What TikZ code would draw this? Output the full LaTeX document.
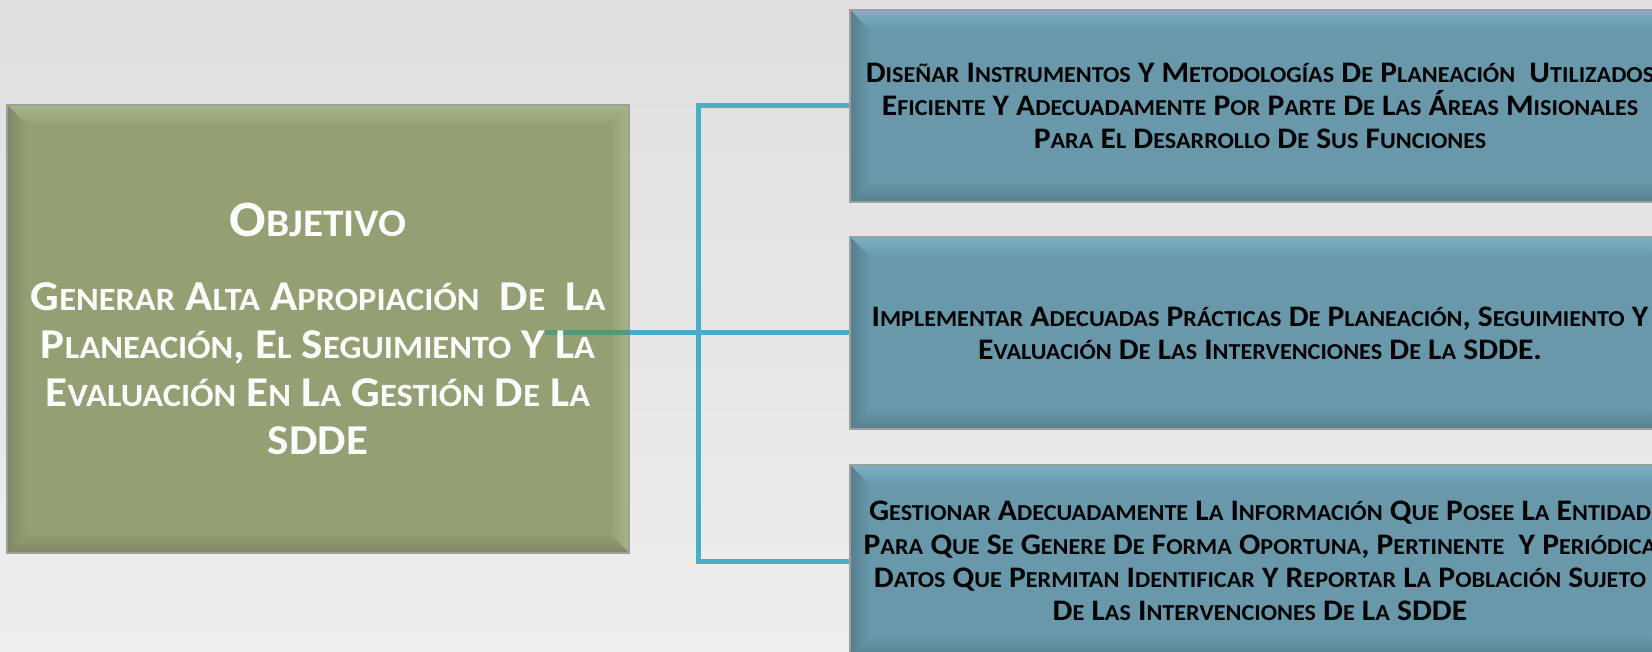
\documentclass[tikz,border=0pt]{standalone}
\usepackage{fontspec}
\setmainfont{Carlito}[FakeStretch=1.06]
\definecolor{bgtop}{RGB}{223,223,223}
\definecolor{bgbot}{RGB}{238,238,238}
\definecolor{gbase}{RGB}{148,160,116}
\definecolor{glight}{RGB}{166,182,132}
\definecolor{gdark}{RGB}{126,136,100}
\definecolor{bbase}{RGB}{104,152,170}
\definecolor{blight}{RGB}{124,176,198}
\definecolor{bdark}{RGB}{86,126,142}
\definecolor{conncol}{RGB}{75,172,198}
\definecolor{connover}{RGB}{96,148,118}
\newcommand\skz{32.5}
\newcommand\sk[1]{{\fontsize{\skz}{10}\selectfont #1}}
\newcommand\bv{20pt}
\tikzset{
  bevelbox/.style n args={3}{rectangle, draw=black!38, line width=1.4pt, fill=#1,
    inner sep=0pt,
    path picture={
      \path (path picture bounding box.north west) coordinate (pNW)
            (path picture bounding box.north east) coordinate (pNE)
            (path picture bounding box.south west) coordinate (pSW)
            (path picture bounding box.south east) coordinate (pSE);
      \shade[top color=#2, bottom color=#1] (pNW) -- (pNE) -- ([xshift=-\bv,yshift=-\bv]pNE) -- ([xshift=\bv,yshift=-\bv]pNW) -- cycle;
      \shade[left color=#1, right color=#2] (pNE) -- (pSE) -- ([xshift=-\bv,yshift=\bv]pSE) -- ([xshift=-\bv,yshift=-\bv]pNE) -- cycle;
      \shade[top color=#1, bottom color=#3] (pSW) -- (pSE) -- ([xshift=-\bv,yshift=\bv]pSE) -- ([xshift=\bv,yshift=\bv]pSW) -- cycle;
      \shade[left color=#3, right color=#1] (pNW) -- (pSW) -- ([xshift=\bv,yshift=\bv]pSW) -- ([xshift=\bv,yshift=-\bv]pNW) -- cycle;
    }},
  greenbox/.style={bevelbox={gbase}{glight}{gdark}, minimum width=622pt, minimum height=448pt},
  greentext/.style={inner sep=0pt, align=center, text=white,
    font={\bfseries\fontsize{42.5}{48}\selectfont\renewcommand\skz{32.5}}},
  bluebox/.style={bevelbox={bbase}{blight}{bdark}, minimum width=820pt, minimum height=192pt,
    align=center, text=black, font={\bfseries\fontsize{29.8}{33.3}\selectfont\renewcommand\skz{22.8}}},
  conn/.style={draw=conncol, line width=5pt},
}
\begin{document}
\begin{tikzpicture}[x=1pt,y=-1pt]
\useasboundingbox (0,0) rectangle (1652,652);
\clip (0,0) rectangle (1652,652);
\shade[top color=bgtop, bottom color=bgbot] (0,0) rectangle (1652,652);

\node[greenbox] (g) at (318,329) {};

\node[bluebox] (b1) at (1260,106) {%
  D\sk{ISEÑAR} I\sk{NSTRUMENTOS} Y M\sk{ETODOLOGÍAS} D\sk{E} P\sk{LANEACIÓN}~ U\sk{TILIZADOS}\\
  E\sk{FICIENTE} Y A\sk{DECUADAMENTE} P\sk{OR} P\sk{ARTE} D\sk{E} L\sk{AS} Á\sk{REAS} M\sk{ISIONALES}\\
  P\sk{ARA} E\sk{L} D\sk{ESARROLLO} D\sk{E} S\sk{US} F\sk{UNCIONES}};

\node[bluebox] (b2) at (1260,333) {%
  I\sk{MPLEMENTAR} A\sk{DECUADAS} P\sk{RÁCTICAS} D\sk{E} P\sk{LANEACIÓN}, S\sk{EGUIMIENTO} Y\\
  E\sk{VALUACIÓN} D\sk{E} L\sk{AS} I\sk{NTERVENCIONES} D\sk{E} L\sk{A} SDDE.};

\node[bluebox] (b3) at (1260,561) {%
  G\sk{ESTIONAR} A\sk{DECUADAMENTE} L\sk{A} I\sk{NFORMACIÓN} Q\sk{UE} P\sk{OSEE} L\sk{A} E\sk{NTIDAD}\\
  P\sk{ARA} Q\sk{UE} S\sk{E} G\sk{ENERE} D\sk{E} F\sk{ORMA} O\sk{PORTUNA}, P\sk{ERTINENTE}~ Y P\sk{ERIÓDICA}\\
  D\sk{ATOS} Q\sk{UE} P\sk{ERMITAN} I\sk{DENTIFICAR} Y R\sk{EPORTAR} L\sk{A} P\sk{OBLACIÓN} S\sk{UJETO}\\
  D\sk{E} L\sk{AS} I\sk{NTERVENCIONES} D\sk{E} L\sk{A} SDDE};

\coordinate (hub) at (698,333);
\coordinate (gin) at (545,333);
\draw[conn] (b1.west) -| (hub) |- (b3.west);
\draw[conn] (hub) -- (b2.west);
\draw[conn] (g.east |- hub) -- (hub);
\draw[conn, draw=connover] (gin) -- (g.east |- hub);

\node[greentext] (gt) at (g.center) {%
  {\fontsize{51}{48}\selectfont O\renewcommand\skz{39}\sk{BJETIVO}}\\[26pt]
  G\sk{ENERAR} A\sk{LTA} A\sk{PROPIACIÓN}~ D\sk{E}~ L\sk{A}\\
  P\sk{LANEACIÓN}, E\sk{L} S\sk{EGUIMIENTO} Y L\sk{A}\\
  E\sk{VALUACIÓN} E\sk{N} L\sk{A} G\sk{ESTIÓN} D\sk{E} L\sk{A}\\
  SDDE};
\end{tikzpicture}
\end{document}
